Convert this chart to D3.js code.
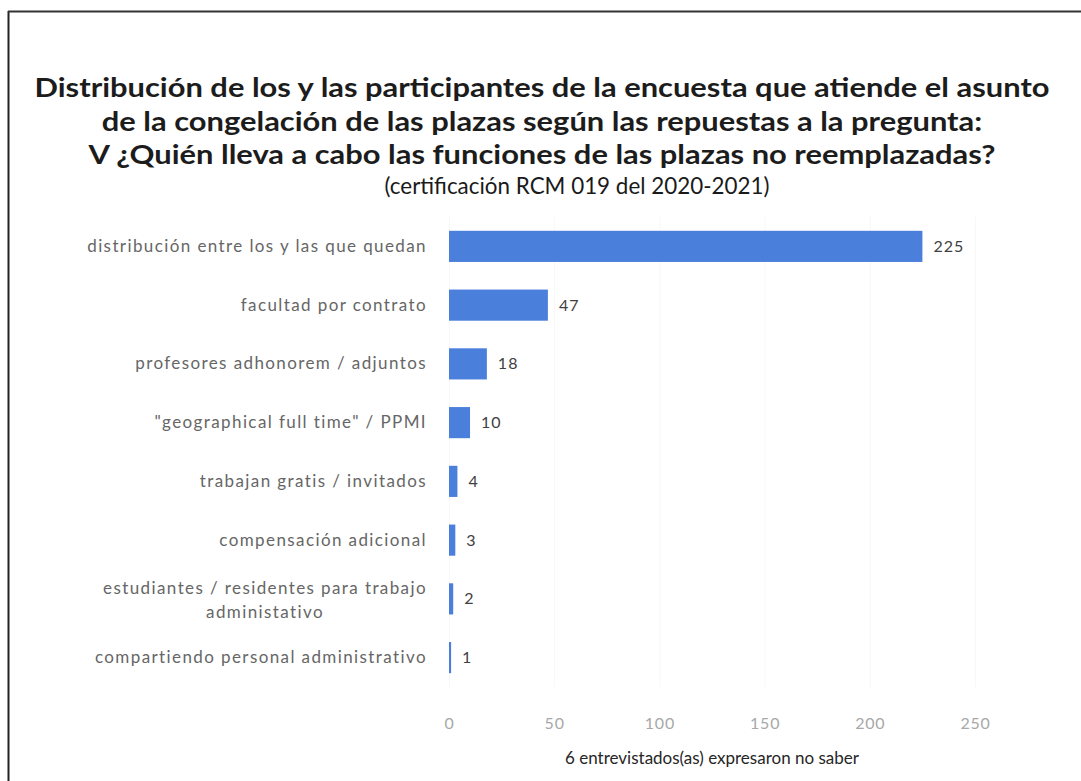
<!DOCTYPE html>
<html>
<head>
<meta charset="utf-8">
<script src="https://cdn.jsdelivr.net/npm/d3@7"></script>
<style>
  html, body { margin: 0; padding: 0; background: #fff; }
  svg { display: block; }
</style>
</head>
<body>
<svg id="chart" width="1081" height="781"></svg>
<script>
// Survey answers: who performs the duties of positions that were not replaced
const categories = [
  "distribución entre los y las que quedan",
  "facultad por contrato",
  "profesores adhonorem / adjuntos",
  "\"geographical full time\" / PPMI",
  "trabajan gratis / invitados",
  "compensación adicional",
  "estudiantes / residentes para trabajo administativo",
  "compartiendo personal administrativo"
];
const values = [225, 47, 18, 10, 4, 3, 2, 1];
const xTicks = [0, 50, 100, 150, 200, 250];

const titleLines = [
  "Distribución de los y las participantes de la encuesta que atiende el asunto",
  "de la congelación de las plazas según las repuestas a la pregunta:",
  "V ¿Quién lleva a cabo las funciones de las plazas no reemplazadas?"
];
const subtitle = "(certificación RCM 019 del 2020-2021)";
const xAxisTitle = "6 entrevistados(as) expresaron no saber";

const HEAD_FONT = "Lato, 'Open Sans', sans-serif";
const FONT = "Lato, 'Open Sans', sans-serif";
const svg = d3.select("#chart");

// Frame around the chart (left and top edges)
svg.append("line").attr("x1", 8.5).attr("x2", 8.5).attr("y1", 11).attr("y2", 781)
  .attr("stroke", "#222").attr("stroke-width", 2);
svg.append("line").attr("x1", 8).attr("x2", 1081).attr("y1", 11.5).attr("y2", 11.5)
  .attr("stroke", "#333").attr("stroke-width", 2);

// Title: a condensed look, obtained by narrowing every line by the same factor
const titleG = svg.append("g").attr("font-family", HEAD_FONT).attr("font-weight", 700)
  .attr("fill", "#1c1c1c").attr("text-anchor", "middle").attr("font-size", 27);
const titleTexts = titleLines.map((t, i) =>
  titleG.append("text").attr("x", 542).attr("y", 97 + i * 33.5).text(t));
const squeeze = 1015 / titleTexts[0].node().getComputedTextLength();
titleTexts.forEach(s => {
  s.attr("textLength", s.node().getComputedTextLength() * squeeze)
   .attr("lengthAdjust", "spacingAndGlyphs");
});

const sub = svg.append("text").attr("x", 577).attr("y", 194)
  .attr("text-anchor", "middle").attr("font-family", HEAD_FONT)
  .attr("fill", "#1a1a1a").attr("font-size", 23).text(subtitle);
sub.attr("textLength", 385).attr("lengthAdjust", "spacingAndGlyphs");

// Scales
const x = d3.scaleLinear().domain([0, 250]).range([449, 975]);
const y = d3.scaleBand().domain(categories).range([217, 687]).paddingInner(0.47).paddingOuter(0.235);

// Very faint vertical gridlines
svg.append("g").selectAll("line").data(xTicks).join("line")
  .attr("x1", d => x(d) + 0.5).attr("x2", d => x(d) + 0.5)
  .attr("y1", 217).attr("y2", 687)
  .attr("stroke", "#f7f7f7").attr("stroke-width", 1);

// Bars
svg.append("g").selectAll("rect").data(values).join("rect")
  .attr("x", x(0))
  .attr("y", (d, i) => y(categories[i]))
  .attr("width", d => Math.max(x(d) - x(0), 1.5))
  .attr("height", y.bandwidth())
  .attr("fill", "#4a7fdc");

// Value labels
svg.append("g").selectAll("text").data(values).join("text")
  .attr("x", d => x(d) + 11)
  .attr("y", (d, i) => y(categories[i]) + y.bandwidth() / 2)
  .attr("dy", "0.35em")
  .attr("font-family", FONT).attr("font-size", 16).attr("letter-spacing", "1px")
  .attr("fill", "#404040")
  .text(d => d);

// Category axis (labels only, the long one wrapped onto two lines)
const yAxis = svg.append("g").attr("transform", "translate(427,0)")
  .call(d3.axisLeft(y).tickSize(0).tickPadding(0));
yAxis.select(".domain").remove();
yAxis.selectAll("text")
  .attr("font-family", FONT).attr("font-size", 17).attr("fill", "#666")
  .attr("letter-spacing", "1.4px")
  .each(function(d) {
    const t = d3.select(this);
    if (d.length > 45) {
      const words = d.split(" ");
      const first = words.slice(0, -1).join(" ");
      const last = words[words.length - 1];
      t.text(null).attr("dy", null);
      const a = t.append("tspan").attr("x", 0).attr("dy", "-0.3em").text(first);
      const w = a.node().getComputedTextLength();
      t.append("tspan").attr("x", -w / 2).attr("dy", "1.4em")
        .attr("text-anchor", "middle").text(last);
    }
  });

// Value axis (tick labels only)
const xAxis = svg.append("g").attr("transform", "translate(0,706)")
  .call(d3.axisBottom(x).tickValues(xTicks).tickSize(0).tickPadding(12));
xAxis.select(".domain").remove();
xAxis.selectAll("text").attr("font-family", FONT).attr("font-size", 16)
  .attr("letter-spacing", "0.8px").attr("fill", "#a8a8a8");

// Value axis title
svg.append("text").attr("x", 712).attr("y", 764).attr("text-anchor", "middle")
  .attr("font-family", FONT).attr("font-size", 17).attr("fill", "#262626")
  .text(xAxisTitle);
</script>
</body>
</html>
